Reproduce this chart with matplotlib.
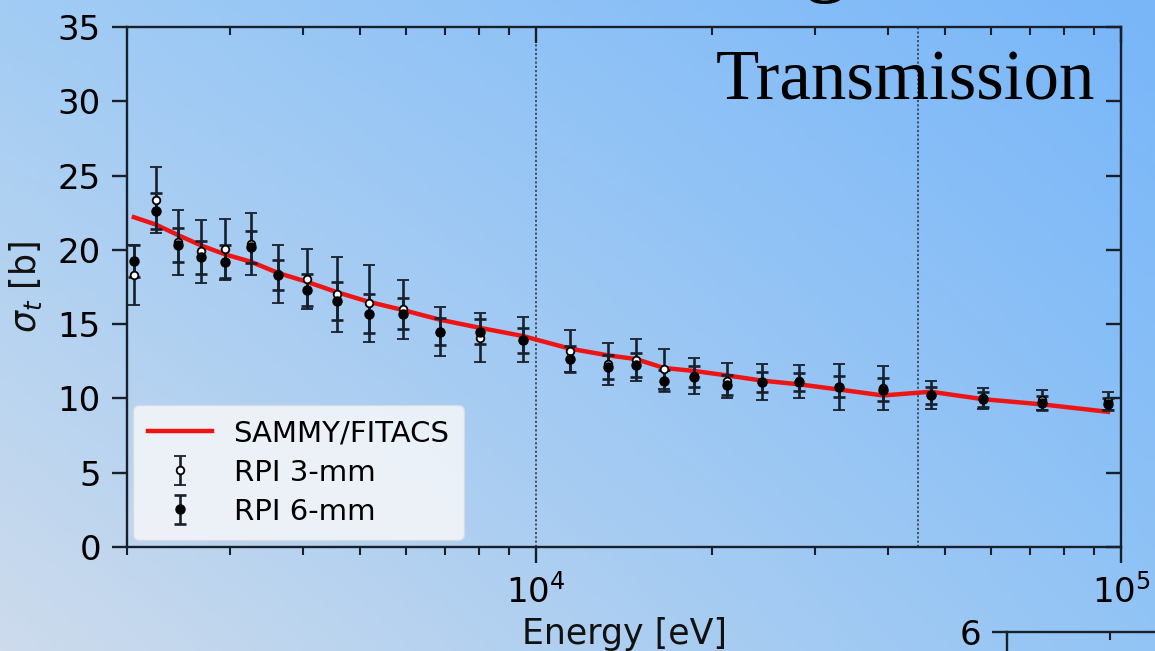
import numpy as np
import matplotlib
matplotlib.use("Agg")
import matplotlib.pyplot as plt
from matplotlib.ticker import LogLocator, NullFormatter, FixedLocator, LogFormatterMathtext

# Total cross section data (energy in eV, sigma in barns)
energy = [2055, 2241, 2443, 2676, 2940, 3257, 3622, 4061, 4570, 5183, 5925, 6853, 8022, 9501,
          11430, 13280, 14824, 16553, 18627, 21212, 24342, 28160, 32960, 39200, 47340, 58080,
          73280, 95000]
sigma_3mm = [18.3, 23.35, 20.5, 19.9, 20.05, 20.4, 18.35, 18.05, 17.0, 16.4, 16.0, 14.5, 14.1, 13.95,
             13.2, 12.3, 12.6, 12.0, 11.5, 11.2, 11.1, 11.15, 10.75, 10.7, 10.25, 10.0, 9.9, 9.85]
err_3mm = [2.0, 2.2, 2.2, 2.1, 2.05, 2.1, 1.95, 2.0, 2.55, 2.6, 2.0, 1.65, 1.65, 1.5,
           1.4, 1.4, 1.4, 1.35, 1.2, 1.2, 1.2, 1.1, 1.55, 1.5, 0.95, 0.7, 0.7, 0.6]
sigma_6mm = [19.25, 22.6, 20.35, 19.5, 19.2, 20.2, 18.3, 17.3, 16.55, 15.7, 15.7, 14.5, 14.5, 13.9,
             12.65, 12.1, 12.25, 11.2, 11.45, 10.9, 11.1, 11.1, 10.8, 10.6, 10.2, 9.95, 9.7, 9.6]
err_6mm = [1.1, 1.2, 1.15, 1.1, 1.1, 1.1, 1.0, 1.1, 1.3, 1.3, 1.05, 0.9, 0.85, 0.85,
           0.9, 0.8, 0.8, 0.7, 0.7, 0.7, 0.7, 0.6, 0.7, 0.8, 0.6, 0.5, 0.45, 0.4]
sigma_fit = [22.2, 21.7, 21.0, 20.3, 19.7, 19.2, 18.45, 17.85, 17.15, 16.5, 15.95, 15.3, 14.75, 14.2,
             13.35, 12.9, 12.65, 12.05, 11.85, 11.55, 11.2, 10.95, 10.6, 10.2, 10.45, 9.95, 9.6, 9.1]
region_edges = [1e4, 4.5e4]
y_ticks = [0, 5, 10, 15, 20, 25, 30, 35]

INK = "#18202c"
TICK_FS = 24.5
LABEL_FS = 25

fig = plt.figure(figsize=(11.55, 6.51), dpi=100)

# slide background gradient
bg = fig.add_axes([0, 0, 1, 1], zorder=-10)
tl = np.array([0xa2, 0xcc, 0xf4]) / 255
tr = np.array([0x78, 0xb6, 0xf9]) / 255
bl = np.array([0xcd, 0xdb, 0xec]) / 255
br = np.array([0x92, 0xc4, 0xf5]) / 255
u = np.linspace(0, 1, 200)[None, :, None]
v = np.linspace(0, 1, 120)[:, None, None]
img = (1 - v) * ((1 - u) * tl + u * tr) + v * ((1 - u) * bl + u * br)
bg.imshow(img, extent=[0, 1, 0, 1], aspect="auto", origin="upper")
bg.axis("off")


def style_axes(a, yt, xlabels=True):
    a.set_facecolor("none")
    a.set_xscale("log")
    a.set_xlim(2000, 1e5)
    for s in a.spines.values():
        s.set_color(INK)
        s.set_linewidth(1.7)
    a.xaxis.set_major_locator(LogLocator(base=10))
    a.xaxis.set_minor_locator(LogLocator(base=10, subs=np.arange(2, 10)))
    a.xaxis.set_major_formatter(LogFormatterMathtext() if xlabels else NullFormatter())
    a.xaxis.set_minor_formatter(NullFormatter())
    a.yaxis.set_major_locator(FixedLocator(yt))
    a.tick_params(axis="x", which="major", direction="out", length=11.5, width=1.7,
                  color=INK, labelsize=TICK_FS, pad=8, top=False)
    a.tick_params(axis="x", which="minor", direction="out", length=5.8, width=1.5,
                  color=INK, top=False)
    a.tick_params(axis="y", which="major", direction="out", length=10.8, width=1.7,
                  color=INK, labelsize=TICK_FS, pad=8, right=False)
    # inward ticks along the top and right edges
    tx = a.twiny()
    tx.set_xscale("log")
    tx.set_xlim(a.get_xlim())
    tx.xaxis.set_major_locator(LogLocator(base=10))
    tx.xaxis.set_minor_locator(LogLocator(base=10, subs=np.arange(2, 10)))
    tx.xaxis.set_major_formatter(NullFormatter())
    tx.xaxis.set_minor_formatter(NullFormatter())
    tx.tick_params(axis="x", which="major", direction="in", length=11.5, width=1.7, color=INK)
    tx.tick_params(axis="x", which="minor", direction="in", length=5.8, width=1.5, color=INK)
    for s in tx.spines.values():
        s.set_visible(False)
    ty = a.twinx()
    ty.set_ylim(a.get_ylim())
    ty.yaxis.set_major_locator(FixedLocator(yt))
    ty.yaxis.set_major_formatter(NullFormatter())
    ty.tick_params(axis="y", which="major", direction="in", length=10.8, width=1.7, color=INK)
    for s in ty.spines.values():
        s.set_visible(False)


ax = fig.add_axes([127 / 1155, 104 / 651, 994 / 1155, 520 / 651])
ax.set_ylim(0, 35)
style_axes(ax, y_ticks)

for e in region_edges:
    ax.axvline(e, color="#27313f", lw=1.1, ls=(0, (1.4, 1.4)), zorder=1)

fit_line, = ax.plot(energy, sigma_fit, color="#ee1414", lw=3.2, zorder=2,
                    label="SAMMY/FITACS")
eb3 = ax.errorbar(energy, sigma_3mm, yerr=err_3mm, fmt="o", ms=5.5, mfc="white", mec="black",
                  mew=1.3, ecolor=INK, elinewidth=1.9, capsize=4.2, capthick=1.9,
                  zorder=3, label="RPI 3-mm")
eb6 = ax.errorbar(energy, sigma_6mm, yerr=err_6mm, fmt="o", ms=6.5, mfc="black", mec="black",
                  ecolor=INK, elinewidth=1.9, capsize=4.2, capthick=1.9,
                  zorder=3, label="RPI 6-mm")

ax.set_xlabel("Energy [eV]", fontsize=LABEL_FS, labelpad=5, color="#111111")
ax.set_ylabel(r"$\sigma_t$ [b]", fontsize=LABEL_FS, labelpad=10, color="#111111")

leg = ax.legend(handles=[fit_line, eb3, eb6], loc="lower left",
                bbox_to_anchor=(0.006, 0.013), borderaxespad=0, fontsize=21,
                handlelength=2.2, handletextpad=0.75, labelspacing=0.38,
                borderpad=0.5, fancybox=True, framealpha=0.88)
leg.get_frame().set_facecolor("#f4f6f9")
leg.get_frame().set_edgecolor("#d6dbe2")

# slide text
fig.text(1095 / 1155, 1 - 100 / 651, "Transmission", family="Liberation Serif",
         fontsize=51, ha="right", va="baseline", color="black")
fig.text(825 / 1155, 1 + 15 / 651, "g", family="Liberation Serif",
         fontsize=63, ha="center", va="baseline", color="black")

# neighbouring panel below
ax2 = fig.add_axes([1007 / 1155, (651 - 1152) / 651, 994 / 1155, 520 / 651])
ax2.set_ylim(0, 6)
style_axes(ax2, [6], xlabels=False)

fig.savefig("out.png", dpi=100)
